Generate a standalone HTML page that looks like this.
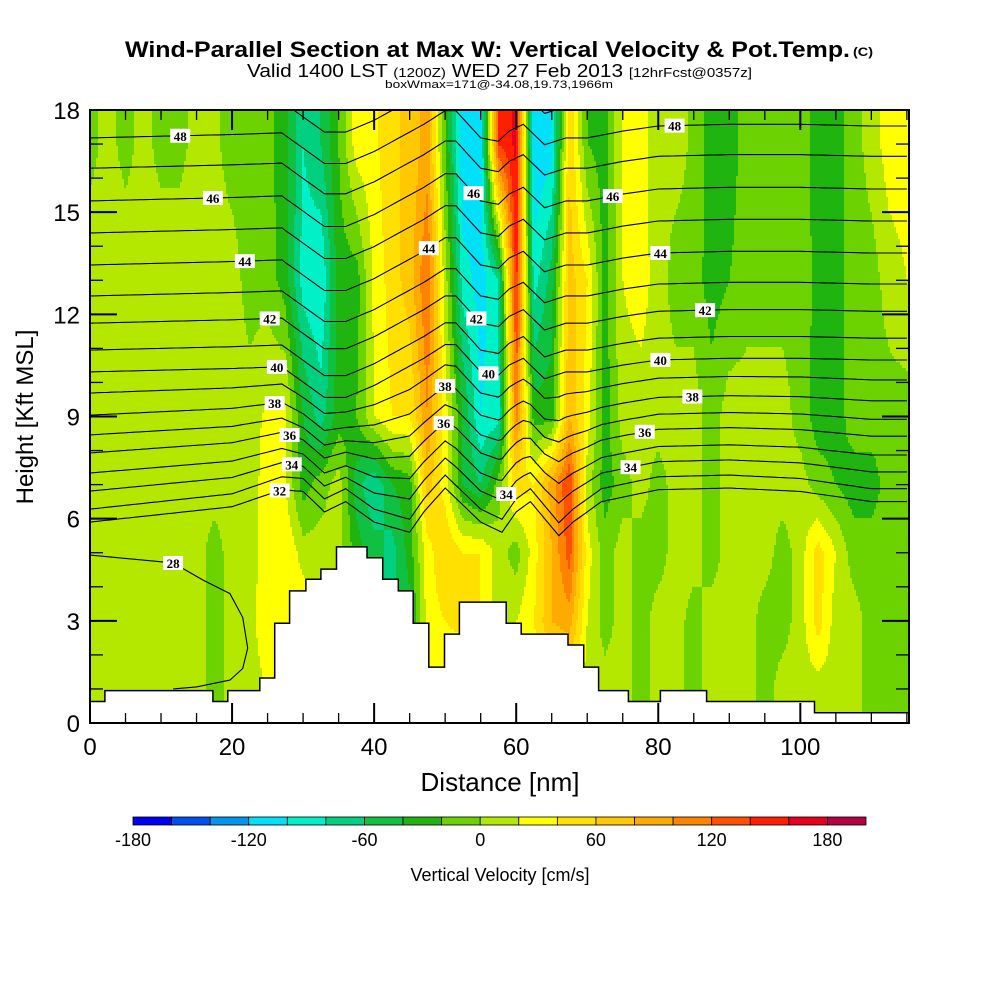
<!DOCTYPE html>
<html><head><meta charset="utf-8">
<style>
html,body{margin:0;padding:0;background:#fff;}
svg{display:block;font-family:"Liberation Sans",Arial,sans-serif;}
</style></head>
<body>
<svg id="chart" width="1000" height="1000" viewBox="0 0 1000 1000">
  <g>
    <text x="125" y="57" font-size="22" font-weight="bold" textLength="725" lengthAdjust="spacingAndGlyphs">Wind-Parallel Section at Max W: Vertical Velocity &amp; Pot.Temp.</text>
    <text x="853" y="56" font-size="12" font-weight="bold" textLength="20" lengthAdjust="spacingAndGlyphs">(C)</text>
    <text x="247" y="77" font-size="18" textLength="505" lengthAdjust="spacingAndGlyphs">Valid 1400 LST <tspan font-size="13">(1200Z)</tspan> WED 27 Feb 2013 <tspan font-size="13">[12hrFcst@0357z]</tspan></text>
    <text x="385" y="88" font-size="11" textLength="228" lengthAdjust="spacingAndGlyphs">boxWmax=171@-34.08,19.73,1966m</text>
  </g>
  <defs><clipPath id="plotclip"><rect x="90" y="110" width="819" height="613"/></clipPath></defs>
  <g id="field" clip-path="url(#plotclip)"></g>
  <g id="contours" clip-path="url(#plotclip)"></g>
  <g id="terrain" clip-path="url(#plotclip)"></g>
  <g id="labels"></g>
  <g id="axes"></g>
  <text x="500" y="791" font-size="26" text-anchor="middle">Distance [nm]</text>
  <text transform="translate(33,417) rotate(-90)" font-size="24" text-anchor="middle">Height [Kft MSL]</text>
  <g id="colorbar"></g>
  <text x="500" y="881" font-size="18" text-anchor="middle">Vertical Velocity [cm/s]</text>
</svg>
<script>
// ---- data ----
const binColors = ["#0000f0","#0050f0","#0096f0","#00e0f8","#00f0c8","#00d080","#10c040","#20b410","#6cd200","#b4e800","#ffff00","#ffe000","#ffc800","#ffaa00","#ff8200","#ff5000","#ff1e00","#e60020","#b40040"];
const binMin = -180, binStep = 20;
const cbTickValues = [-180,-120,-60,0,60,120,180];
const xTickLabels = [0,20,40,60,80,100];
const yTickLabels = [0,3,6,9,12,15,18];
const gridStepNm = 2.5;
const rowHeights = [0,1,3,5,7,9,13,17,18];
const row1 = [10,10,10,10,10,10,10,-10,10,10,20,30,10,10,10,10,10,10,10,20,10,10,10,10,10,20,40,40,10,10,10,-10,10,10,-10,10,10,10,-10,10,10,10,10,10,-10,-10,-10];
const row3 = [10,10,10,10,10,10,10,-10,10,10,40,40,40,10,10,-30,-50,-60,-50,30,40,50,40,10,20,40,80,90,20,-10,10,-10,10,10,-10,10,10,10,-10,-10,10,50,10,10,-10,-10,-10];
const row5 = [10,10,10,10,10,10,10,-10,10,10,30,40,10,10,10,-30,-50,-70,-30,30,60,40,40,10,-10,30,80,130,30,-10,10,-10,-10,10,10,-10,10,10,10,-10,10,50,20,-10,-10,-10,-10];
const row7 = [10,10,10,10,10,10,10,10,10,10,30,20,-30,-10,10,-50,-80,-40,-30,70,30,-40,-60,-10,50,40,90,140,10,-30,-10,10,-10,10,10,-10,10,10,10,10,10,-10,-20,-30,-30,-10,-10];
const row9 = [10,10,10,10,10,10,10,10,10,10,25,25,-40,-70,-30,-20,20,40,40,100,30,-40,-100,-90,110,-30,-30,80,30,-30,10,10,10,10,10,-10,10,10,10,10,-10,-30,-30,-10,-10,-10,-10];
const row13 = [10,10,10,10,10,10,10,10,10,-10,-10,-30,-90,-100,-30,-30,25,50,70,120,10,-90,-110,-80,150,-90,-50,70,40,-30,20,30,10,-10,-10,-30,-20,-10,-10,-10,-10,-25,-30,-10,-10,10,20];
const row17 = [-5,5,-5,5,-5,-5,5,5,-10,-10,-15,-30,-80,-60,-20,30,35,55,65,90,-20,-120,-110,140,165,-120,-110,60,-20,-30,25,30,5,10,-5,-30,-30,-10,-10,-10,-10,-30,-30,-10,10,30,30];
const fieldRows = [row1,row1,row3,row5,row7,row9,row13,row17,row17];

const thetaLevels = [32,33,34,35,36,37,38,39,40,41,42,43,44,45,46,47,48,49];
const thetaLeftKft = [5.90,6.28,6.81,7.34,7.93,8.46,9.04,9.69,10.31,10.95,11.74,12.54,13.45,14.39,15.33,16.29,17.18,18.1];
const dispUx = [0,20,27,33,36,40,47,50,51.5,55,57.5,59,61,64,67,70,75,80,90,100,110,115];
const dispUk = [0,0.1,0.15,-0.75,-0.75,-0.4,0.4,0.8,0.8,0.0,-0.1,0.2,0.4,-0.2,0.0,0.0,0.2,0.35,0.4,0.4,0.35,0.35];
const dispLx = [0,20,27,30,33,36,40,45,47,50,52,55,58,60,62,66,68,72,80,90,100,110,115];
const dispLk = [0,0.45,0.95,0.9,0.3,0.6,0,-0.3,0.3,1.0,0.6,0,-0.3,0.3,0.6,-0.4,0,0.6,0.95,1.0,0.9,0.6,0.6];
const theta28x = [0,11.7,15.9,19.7,21.5,22.2,21.5,19.7,15.0,11.7];
const theta28k = [4.93,4.7,4.2,3.8,3.1,2.2,1.6,1.26,1.06,1.0];
const labelLevels = [48,46,44,42,40,38,36,34,32,46,44,42,40,38,36,34,48,46,44,42,40,38,36,34];
const labelXnm = [12.7,17.3,21.8,25.3,26.3,26.0,28.1,28.4,26.7,54.0,47.7,54.4,56.1,50.0,49.8,58.6,82.3,73.6,80.3,86.6,80.3,84.8,78.1,76.1];

const terrainEdges = [0,2.1,17.3,19.4,23.9,26,28.1,30.4,32.5,34.7,39,41.2,43.4,45.5,47.7,49.9,52,58.6,60.7,67.3,69.5,71.6,75.8,80.3,86.8,102,115.3];
const terrainKft = [0.63,0.95,0.63,0.95,1.32,2.93,3.88,4.22,4.52,5.17,4.85,4.22,3.88,2.93,1.64,2.61,3.55,2.93,2.61,2.29,1.64,0.95,0.63,0.95,0.63,0.3];

// ---- scales ----
const X0=90, X1=909, Y0=723, Y1=110, XMAX=115.3, YMAX=18;
const sx = v => X0 + v/XMAX*(X1-X0);
const sy = v => Y0 - v/YMAX*(Y0-Y1);
const invx = p => (p-X0)/(X1-X0)*XMAX;
const invy = p => (Y0-p)/(Y0-Y1)*YMAX;
const NS="http://www.w3.org/2000/svg";
function mk(tag, attrs, parent){const e=document.createElementNS(NS,tag);for(const k in attrs)e.setAttribute(k,attrs[k]);parent.appendChild(e);return e;}
function interp(xs, ys, x){ if(x<=xs[0])return ys[0]; for(let i=1;i<xs.length;i++){ if(x<=xs[i]){const t=(x-xs[i-1])/(xs[i]-xs[i-1]);return ys[i-1]+t*(ys[i]-ys[i-1]);} } return ys[ys.length-1]; }
function colorFor(v){ let b=Math.floor((v-binMin)/binStep); b=Math.max(0,Math.min(binColors.length-1,b)); return binColors[b]; }
function fieldAt(xn, yk){
  const ncol = row1.length;
  let cf = xn/gridStepNm; cf=Math.max(0,Math.min(ncol-1.0001,cf));
  const c=Math.floor(cf), tc=cf-c;
  let r=0; while(r<rowHeights.length-2 && yk>rowHeights[r+1]) r++;
  const tr=Math.max(0,Math.min(1,(yk-rowHeights[r])/(rowHeights[r+1]-rowHeights[r])));
  const a=fieldRows[r], b=fieldRows[r+1];
  const va=a[c]*(1-tc)+a[c+1]*tc, vb=b[c]*(1-tc)+b[c+1]*tc;
  return va*(1-tr)+vb*tr;
}
// ---- field ----
const field=document.getElementById('field');
const CW=2, CH=3;
function addCell(x,y,w,h,col){
  const r=mk('rect',{x:x,y:y,width:w+0.5,height:h+0.5,fill:col},field);
  
  
}
for(let py=Y1; py<Y0; py+=CH){
  const yk=invy(py+CH/2);
  let runStart=X0, runColor=null, px;
  for(px=X0; px<X1; px+=CW){
    const col = colorFor(fieldAt(invx(px+CW/2), yk));
    if(col!==runColor){
      if(runColor) addCell(runStart,py,px-runStart,CH,runColor);
      runStart=px; runColor=col;
    }
  }
  if(runColor) addCell(runStart,py,X1-runStart+2,CH,runColor);
}
// ---- contours ----
const cg=document.getElementById('contours');
function thetaKft(i, xn){
  const lev=thetaLevels[i];
  const t=Math.max(0,Math.min(1,(lev-33)/7));
  return thetaLeftKft[i] + ((1-t)*interp(dispLx,dispLk,xn) + t*interp(dispUx,dispUk,xn));
}
thetaLevels.forEach((lev,i)=>{
  let d='';
  for(let xn=0; xn<=XMAX; xn+=0.5){ d+=(xn===0?'M':'L')+sx(xn).toFixed(1)+','+sy(thetaKft(i,xn)).toFixed(1); }
  const p=mk('path',{d:d,fill:'none',stroke:'#000','stroke-width':1.1},cg);
  
  
});
{
  let d=''; theta28x.forEach((x,i)=>{ d+=(i?'L':'M')+sx(x).toFixed(1)+','+sy(theta28k[i]).toFixed(1); });
  const p=mk('path',{d:d,fill:'none',stroke:'#000','stroke-width':1.1},cg);
  
  
}
// ---- terrain ----
const tg=document.getElementById('terrain');
{
  let d='M'+sx(terrainEdges[0])+','+(Y0+5);
  terrainKft.forEach((h,i)=>{ d+='L'+sx(terrainEdges[i]).toFixed(1)+','+sy(h).toFixed(1)+'L'+sx(terrainEdges[i+1]).toFixed(1)+','+sy(h).toFixed(1); });
  d+='L'+sx(terrainEdges[terrainEdges.length-1])+','+(Y0+5)+'Z';
  const p=mk('path',{d:d,fill:'#fff',stroke:'#000','stroke-width':1.5},tg);
  
  
}
// ---- contour labels ----
const lg=document.getElementById('labels');
function addLabel(lev,x,y){
  const g=mk('g',{},lg);
  
  
  mk('rect',{x:x-10,y:y-7,width:20,height:14,fill:'#fff'},g);
  const t=mk('text',{x:x,y:y+5,'font-size':13,'font-weight':'bold','text-anchor':'middle','font-family':'Liberation Serif, serif'},g);
  t.textContent=lev;
}
labelLevels.forEach((lev,j)=>{
  const i=thetaLevels.indexOf(lev);
  addLabel(lev, sx(labelXnm[j]), sy(thetaKft(i,labelXnm[j])));
});
addLabel(28, sx(theta28x[1]), sy(theta28k[1]));
// ---- axes ----
const ag=document.getElementById('axes');
for(let v=0; v<=XMAX; v+=5){
  const major=v%20===0, L=major?20:10, x=sx(v);
  const t1=mk('line',{x1:x,y1:Y0,x2:x,y2:Y0-L,stroke:'#000','stroke-width':major?2:1.3},ag);
   
  const t2=mk('line',{x1:x,y1:Y1,x2:x,y2:Y1+L,stroke:'#000','stroke-width':major?2:1.3},ag);
   
}
for(let v=0; v<=YMAX; v+=1){
  const major=v%3===0, L=major?27:13, y=sy(v);
  const t1=mk('line',{x1:X0,y1:y,x2:X0+L,y2:y,stroke:'#000','stroke-width':major?2:1.3},ag);
   
  const t2=mk('line',{x1:X1,y1:y,x2:X1-L,y2:y,stroke:'#000','stroke-width':major?2:1.3},ag);
   
}
xTickLabels.forEach(v=>{
  const t=mk('text',{x:sx(v),y:755,'font-size':24,'text-anchor':'middle'},ag);
   
  t.textContent=v;
});
yTickLabels.forEach(v=>{
  const t=mk('text',{x:80,y:sy(v)+9,'font-size':24,'text-anchor':'end'},ag);
   
  t.textContent=v;
});
{
  const f=mk('rect',{x:X0,y:Y1,width:X1-X0,height:Y0-Y1,fill:'none',stroke:'#000','stroke-width':2},ag);
   
}
// ---- colorbar ----
const cbg=document.getElementById('colorbar');
const CB0=133, CB1=866, CBY=817, CBH=8;
const cbw=(CB1-CB0)/binColors.length;
binColors.forEach((c,i)=>{
  const r=mk('rect',{x:CB0+i*cbw,y:CBY,width:cbw,height:CBH,fill:c,stroke:'#000','stroke-width':0.8},cbg);
   
});
cbTickValues.forEach(v=>{
  const x=CB0+(v-binMin)/binStep*cbw;
  const t=mk('text',{x:x,y:846,'font-size':18,'text-anchor':'middle'},cbg);
   
  t.textContent=v;
});
</script>
</body></html>
